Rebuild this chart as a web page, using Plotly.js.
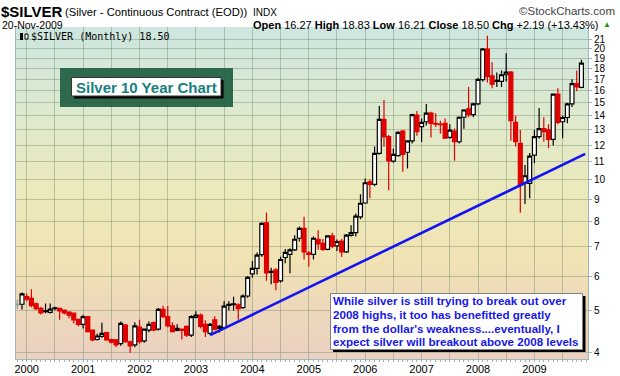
<!DOCTYPE html>
<html><head><meta charset="utf-8">
<script src="https://cdn.plot.ly/plotly-3.0.1.min.js"></script>
<style>
html,body{margin:0;padding:0;background:#fff;}
#wrap{position:relative;width:620px;height:376px;overflow:hidden;}
#bg{position:absolute;left:16px;top:27px;width:572px;height:332px;
 background:linear-gradient(to bottom,#cde6e0 0%,#dde9cf 25%,#ece9bb 50%,#f1e3b3 70%,#edd8bb 85%,#ebd1c1 100%);}
#chart{position:absolute;left:0;top:0;width:620px;height:376px;}
</style></head><body>
<div id="wrap"><div id="bg"></div><div id="chart"></div></div>
<script>
// first bar: Nov 1999, monthly bars through Nov 2009
const startYear = 1999, startMonth = 11;

const open = [5.16,5.17,
 5.38,5.33,5.18,5.06,5.00,4.95,5.07,5.06,5.01,4.96,4.93,4.77,
 4.65,4.84,4.51,4.29,4.36,4.45,4.29,4.28,4.20,4.63,4.24,4.17,
 4.58,4.26,4.51,4.69,4.53,5.03,4.84,4.61,4.50,4.53,4.60,4.39,
 4.82,4.88,4.65,4.43,4.76,4.55,4.57,5.17,5.18,5.15,5.08,5.40,
 6.07,6.25,6.72,7.95,6.15,6.20,5.85,6.62,6.73,6.89,7.33,7.72,
 6.78,6.73,7.29,7.13,6.91,7.42,7.04,7.22,6.82,7.44,7.55,8.21,
 8.83,9.88,9.75,11.48,13.75,12.54,11.02,11.34,12.92,11.55,12.26,14.06,
 13.22,13.57,14.20,13.46,13.40,13.46,12.50,12.92,12.21,13.90,14.53,14.10,
 14.92,16.96,19.94,17.29,16.90,16.80,17.40,17.65,13.53,12.10,9.83,9.80,
 11.37,12.54,13.09,13.00,12.37,15.70,13.57,13.88,14.92,16.60,16.27];

const high = [5.30,5.50,
 5.48,5.60,5.22,5.10,5.19,5.19,5.10,5.07,5.03,4.98,4.95,4.79,
 4.89,4.86,4.52,4.42,4.69,4.47,4.31,4.30,4.72,4.66,4.26,4.70,
 4.76,4.55,4.72,4.72,5.07,5.13,5.12,4.70,4.65,4.55,4.62,4.88,
 4.98,4.92,4.75,4.68,4.85,4.63,5.25,5.25,5.38,5.20,5.45,6.00,
 6.50,6.80,7.98,8.40,6.27,6.25,6.65,6.92,6.95,7.45,7.80,8.21,
 6.85,7.40,7.65,7.30,7.45,7.55,7.28,7.30,7.50,7.85,8.35,9.25,
 10.05,10.00,11.90,14.75,15.22,12.65,11.78,12.90,13.00,12.30,14.15,14.37,
 13.80,14.90,14.30,14.20,13.65,13.80,13.40,13.10,13.95,14.50,16.30,15.00,
 17.10,20.05,21.38,18.60,17.60,17.80,19.50,17.75,14.00,13.00,10.80,11.50,
 13.00,14.60,13.90,13.40,15.75,16.20,14.00,15.00,17.00,17.80,18.83];

const low = [5.04,5.03,
 5.25,5.09,5.01,4.90,4.93,4.92,5.01,4.76,4.90,4.80,4.67,4.60,
 4.55,4.45,4.25,4.27,4.33,4.26,4.20,4.12,4.15,4.22,4.00,4.12,
 4.20,4.22,4.46,4.48,4.50,4.80,4.58,4.45,4.48,4.29,4.35,4.35,
 4.80,4.55,4.35,4.40,4.50,4.45,4.55,5.00,5.00,4.76,5.05,5.35,
 5.95,6.05,6.65,5.85,5.75,5.57,5.80,6.42,6.09,6.85,7.20,6.55,
 6.30,6.55,6.90,6.85,6.88,6.95,6.85,6.64,6.78,7.40,7.40,8.10,
 8.80,9.05,9.65,11.40,11.90,9.45,10.93,11.30,10.42,10.60,12.10,12.60,
 12.20,13.30,12.48,13.20,12.76,12.40,12.40,11.04,12.10,13.07,13.90,13.90,
 14.80,16.80,16.70,16.20,16.30,16.30,16.80,12.27,11.90,8.39,8.78,9.05,
 10.90,12.40,12.21,11.80,11.97,13.40,12.44,13.46,14.67,15.95,16.21];

const close = [5.17,5.46,
 5.31,5.13,5.05,4.94,4.97,5.04,5.05,4.99,4.94,4.88,4.76,4.65,
 4.84,4.47,4.28,4.37,4.43,4.28,4.23,4.17,4.67,4.24,4.15,4.61,
 4.24,4.53,4.65,4.51,5.03,4.84,4.61,4.47,4.55,4.50,4.39,4.84,
 4.88,4.60,4.47,4.65,4.53,4.60,5.12,5.14,5.16,5.05,5.40,5.96,
 6.25,6.70,7.93,6.10,6.12,5.80,6.55,6.80,6.89,7.29,7.72,6.82,
 6.73,7.33,7.11,6.91,7.42,7.03,7.20,6.82,7.45,7.55,8.24,8.82,
 9.83,9.75,11.48,13.75,12.54,11.04,11.42,12.83,11.42,12.26,14.10,12.88,
 13.53,14.20,13.46,13.40,13.37,12.44,12.99,12.21,13.90,14.44,14.10,14.92,
 16.98,19.94,17.23,16.55,16.80,17.40,17.65,13.65,12.21,9.71,10.20,11.32,
 12.54,13.09,12.88,12.37,15.70,13.53,13.88,14.92,16.60,16.31,18.50];

const yearLabels = ['2000','2001','2002','2003','2004','2005','2006','2007','2008','2009'];
const priceTicks = [4,5,6,7,8,9,10,11,12,13,14,15,16,17,18,19,20,21];

// hand-drawn trend line (month index from Jan 2000, price)
const trendX = [39, 118.8];
const trendY = [4.39, 11.45];

const noteTitle = 'Silver 10 Year Chart';
const noteLines = [
 "While silver is still trying to break out over",
 "2008 highs, it too has benefitted greatly",
 "from the dollar's weakness....eventually, I",
 "expect silver will breakout above 2008 levels"];

// ---- build ----
const n = close.length;
const x = [];
for (let i = 0; i < n; i++) {
  const m = (startYear - 2000) * 12 + (startMonth - 1) + i; // Jan 2000 = 0
  x.push(m);
}
const groups = {hollow:[], red:[], black:[], gray:[]};
for (let i = 0; i < n; i++) {
  let g;
  if (i === 0) g = 'gray';
  else if (close[i] >= open[i]) g = 'hollow';
  else if (close[i] < close[i-1]) g = 'red';
  else g = 'black';
  groups[g].push(i);
}
const style = {
  hollow:{line:'#000000', fill:'#ffffff'},
  red:{line:'#e00000', fill:'#e00000'},
  black:{line:'#000000', fill:'#000000'},
  gray:{line:'#8a9aa0', fill:'#8a9aa0'}
};
const traces = [];
for (const g of ['gray','hollow','black','red']) {
  const idx = groups[g];
  if (!idx.length) continue;
  const st = {line:{color:style[g].line, width:1.2}, fillcolor:style[g].fill};
  traces.push({
    type:'candlestick',
    x: idx.map(i => x[i]), open: idx.map(i => open[i]), high: idx.map(i => high[i]),
    low: idx.map(i => low[i]), close: idx.map(i => close[i]),
    increasing: st, decreasing: st, whiskerwidth:0,
    hoverinfo:'skip', showlegend:false
  });
}
traces.push({type:'scatter', mode:'lines', x:trendX, y:trendY,
  line:{color:'#1414f0', width:2.6}, hoverinfo:'skip', showlegend:false});

// ticks: grid every six months, labels on January
const tickvals = [], ticktext = [];
yearLabels.forEach((yl, k) => {
  tickvals.push(k*12); ticktext.push(yl);
  tickvals.push(k*12+6); ticktext.push('');
});

// pixel -> paper helpers
const PL=16, PR=588, PT=27, PB=359;
const fx = p => (p-PL)/(PR-PL);
const fy = p => (PB-p)/(PB-PT);

const last = n-1;
const chg = close[last]-close[last-1];
const pct = chg/close[last-1]*100;
const sgn = v => (v>=0?'+':'')+v.toFixed(2);
const F = 'Liberation Sans, Arial, sans-serif';

const ann = (txt, px, py, opt) => Object.assign({
  text:txt, x:fx(px), y:fy(py), xref:'paper', yref:'paper', showarrow:false,
  xanchor:'left', yanchor:'middle', borderpad:0, font:{family:F, size:11, color:'#000'}
}, opt||{});

const annotations = [
  ann('<b>$SILVER</b>', 0, 11, {font:{family:F,size:15,color:'#000'}}),
  ann('(Silver - Continuous Contract (EOD))', 64, 12, {font:{family:F,size:11.2,color:'#000'}}),
  ann('INDX', 252, 12, {font:{family:F,size:10,color:'#000'}}),
  ann('©StockCharts.com', 616, 11, {xanchor:'right', font:{family:F,size:11.5,color:'#444'}}),
  ann('20-Nov-2009', 1, 25, {font:{family:F,size:10.5,color:'#000'}}),
  ann('<b>Open</b> '+open[last].toFixed(2)+' <b>High</b> '+high[last].toFixed(2)+
      ' <b>Low</b> '+low[last].toFixed(2)+' <b>Close</b> '+close[last].toFixed(2)+
      ' <b>Chg</b> '+sgn(chg)+' ('+sgn(pct)+'%)', 600, 25,
      {xanchor:'right', font:{family:F,size:11,color:'#000'}}),
  ann('▲', 602, 25, {font:{family:F,size:8,color:'#1a9a1a'}}),
  ann('$SILVER (Monthly) '+close[last].toFixed(2), 30, 36,
      {font:{family:'DejaVu Sans Mono, monospace', size:10, color:'#000'}}),
  ann('<b>'+noteTitle+'</b>', 146.5, 87.5, {xanchor:'center',
      font:{family:F,size:15,color:'#17807e'}})
];
const lineY = [300.7, 314.4, 328.1, 341.8];
noteLines.forEach((t,k) => annotations.push(
  ann('<b>'+t+'</b>', 332, lineY[k], {font:{family:F,size:11.6,color:'#1717ea'}})));

const rect = (x0,y0,x1,y1,fill,lineColor,lw) => ({
  type:'rect', xref:'paper', yref:'paper', x0:fx(x0), x1:fx(x1), y0:fy(y1), y1:fy(y0),
  fillcolor:fill, line:{color:lineColor||fill, width:lw||0}, layer:'above'});

const shapes = [
  // legend icon
  rect(20,33,23,40,'#000'), rect(25,34,28,39,'#fff','#000',1),
  // title box
  rect(60,68,233,107,'rgba(28,92,62,0.9)'),
  rect(74,80,223.5,98.5,'#000'),
  rect(71.5,77.5,221,96,'#ffffff','#333',1),
  // note box
  rect(333,296,585.5,352,'#000'),
  rect(330.5,293.5,582.5,349.5,'#ffffff','#808080',1)
];

const grid = 'rgba(105,130,100,0.40)';
const axc = '#9db5ba';
const layout = {
  width:620, height:376,
  margin:{l:PL, r:620-PR, t:PT, b:376-PB},
  paper_bgcolor:'rgba(0,0,0,0)', plot_bgcolor:'rgba(0,0,0,0)',
  showlegend:false, boxgap:0.12, boxgroupgap:0.05,
  font:{family:F, size:11, color:'#000'},
  xaxis:{range:[-2.28,119.4], tickmode:'array', tickvals:tickvals, ticktext:ticktext,
    showgrid:true, gridcolor:grid, gridwidth:1, showline:true, linecolor:axc,
    ticks:'', zeroline:false, fixedrange:true,
    tickfont:{family:F, size:11, color:'#000'},
    rangeslider:{visible:false},
    minor:{tickmode:'linear', tick0:0, dtick:1, ticks:'outside', ticklen:2, tickcolor:axc, showgrid:false}},
  yaxis:{type:'log', side:'right', range:[Math.log10(3.87), Math.log10(22.4)],
    tickmode:'array', tickvals:priceTicks, ticktext:priceTicks.map(String),
    showgrid:true, gridcolor:grid, gridwidth:1, showline:true, mirror:true, linecolor:axc,
    ticks:'outside', ticklen:3, tickcolor:axc, zeroline:false, fixedrange:true,
    tickfont:{family:F, size:10, color:'#000'}},
  shapes:shapes, annotations:annotations
};
Plotly.newPlot('chart', traces, layout, {displayModeBar:false, staticPlot:true});
</script>
</body></html>
